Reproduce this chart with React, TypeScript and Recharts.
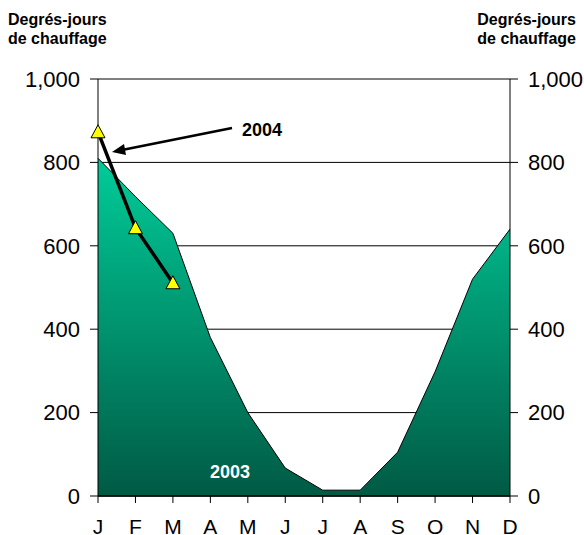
import React from 'react';
import {
  ComposedChart, Area, Line, XAxis, YAxis, CartesianGrid,
} from 'recharts';

const FONT = "'Liberation Sans', Arial, sans-serif";

const MONTHS = ['J', 'F', 'M', 'A', 'M', 'J', 'J', 'A', 'S', 'O', 'N', 'D'];
const DD_2003 = [810, 718, 630, 380, 200, 67, 14, 14, 105, 298, 520, 640];
const DD_2004 = [873, 643, 511, null, null, null, null, null, null, null, null, null];
const Y_TICKS = [0, 200, 400, 600, 800, 1000];

const data = MONTHS.map((m, i) => ({ month: m, y2003: DD_2003[i], y2004: DD_2004[i] }));

const fmt = (v: number) => v.toLocaleString('en-US');

const Triangle = (props: any) => {
  const { cx, cy, index } = props;
  if (cx == null || cy == null || props.value == null) return <g key={index} />;
  const h = 13;
  const w = 14;
  const pts = `${cx},${cy - h * 0.55} ${cx - w / 2},${cy + h * 0.45} ${cx + w / 2},${cy + h * 0.45}`;
  return <polygon key={index} points={pts} fill="#ffff00" stroke="#000" strokeWidth={1} />;
};

const axisTick = { fontSize: 22, fill: '#000', fontFamily: FONT };

export default function App() {
  return (
    <div style={{ position: 'absolute', left: 0, top: 0, width: 584, height: 535, background: '#fff', fontFamily: FONT }}>
      <ComposedChart width={584} height={535} data={data} margin={{ top: 79, right: 0, bottom: 0, left: 0 }}>
        <defs>
          <linearGradient id="g2003" x1="0" y1="0" x2="0" y2="1">
            <stop offset="0%" stopColor="#00cc99" />
            <stop offset="100%" stopColor="#005a44" />
          </linearGradient>
        </defs>
        <CartesianGrid yAxisId="left" vertical={false} stroke="#000" strokeWidth={1} />
        <XAxis
          dataKey="month"
          height={39}
          tick={{ fontSize: 21, fill: '#000', fontFamily: FONT }}
          tickSize={7}
          tickMargin={16}
          axisLine={{ stroke: '#000', strokeWidth: 1.5 }}
          tickLine={{ stroke: '#000' }}
          interval={0}
        />
        <YAxis
          yAxisId="left"
          width={98}
          domain={[0, 1000]}
          ticks={Y_TICKS}
          tickFormatter={fmt}
          tick={axisTick}
          tickSize={8}
          tickMargin={10}
          axisLine={{ stroke: '#000' }}
          tickLine={{ stroke: '#000' }}
        />
        <YAxis
          yAxisId="right"
          orientation="right"
          width={74}
          domain={[0, 1000]}
          ticks={Y_TICKS}
          tickFormatter={fmt}
          tick={axisTick}
          tickSize={8}
          tickMargin={10}
          axisLine={{ stroke: '#000' }}
          tickLine={{ stroke: '#000' }}
        />
        <Area
          yAxisId="left"
          type="linear"
          dataKey="y2003"
          stroke="#000"
          strokeWidth={1}
          fill="url(#g2003)"
          fillOpacity={1}
          isAnimationActive={false}
        />
        {/* invisible series so the right axis gets drawn */}
        <Line
          yAxisId="right"
          type="linear"
          dataKey="y2003"
          stroke="none"
          dot={false}
          activeDot={false}
          legendType="none"
          isAnimationActive={false}
        />
        <Line
          yAxisId="left"
          type="linear"
          dataKey="y2004"
          stroke="#000"
          strokeWidth={3.5}
          dot={<Triangle />}
          activeDot={false}
          isAnimationActive={false}
        />
      </ComposedChart>

      <svg width={584} height={535} style={{ position: 'absolute', left: 0, top: 0, pointerEvents: 'none' }}>
        <text x={8} y={25} fontSize={16} fontWeight="bold" fontFamily={FONT}>Degrés-jours</text>
        <text x={8} y={44} fontSize={16} fontWeight="bold" fontFamily={FONT}>de chauffage</text>
        <text x={576} y={25} fontSize={16} fontWeight="bold" fontFamily={FONT} textAnchor="end">Degrés-jours</text>
        <text x={576} y={44} fontSize={16} fontWeight="bold" fontFamily={FONT} textAnchor="end">de chauffage</text>
        <line x1={232} y1={128} x2={122} y2={150} stroke="#000" strokeWidth={2.5} />
        <polygon points="112,152 124,144 126,155" fill="#000" />
        <text x={242} y={136} fontSize={18} fontWeight="bold" fontFamily={FONT}>2004</text>
        <text x={230} y={478} fontSize={18} fontWeight="bold" fontFamily={FONT} fill="#fff" textAnchor="middle">2003</text>
      </svg>
    </div>
  );
}
